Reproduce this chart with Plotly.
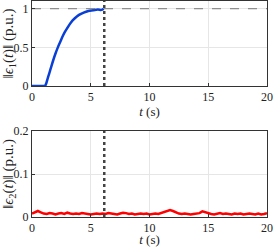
import plotly.graph_objects as go
from plotly.subplots import make_subplots

# Top: norm of eps1 (blue), drawn until switch time
t1 = [0, 0.5, 1.0, 1.1, 1.2, 1.3, 1.4, 1.5, 1.6, 1.8, 2.0, 2.2, 2.4, 2.6, 2.8, 3.0, 3.3,
      3.6, 4.0, 4.4, 4.8, 5.2, 5.6, 5.9, 6.1]
y1 = [0, 0, 0, 0.0, 0.03, 0.08, 0.13, 0.18, 0.23, 0.33, 0.42, 0.50, 0.57, 0.64, 0.70, 0.75,
      0.82, 0.87, 0.92, 0.95, 0.97, 0.98, 0.99, 0.985, 1.0]

# Bottom: norm of eps2 (red)
t2 = [i * 0.25 for i in range(81)]
y2 = [0.008, 0.012, 0.014, 0.011, 0.008, 0.007, 0.009, 0.008, 0.006, 0.008, 0.009, 0.007,
      0.010, 0.008, 0.007, 0.008, 0.007, 0.009, 0.008, 0.007, 0.006, 0.007, 0.008, 0.007,
      0.008, 0.007, 0.009, 0.008, 0.007, 0.006, 0.008, 0.010, 0.009, 0.007, 0.008, 0.006,
      0.007, 0.008, 0.007, 0.008, 0.006, 0.007, 0.008, 0.007, 0.009, 0.011, 0.013, 0.016,
      0.014, 0.011, 0.008, 0.007, 0.008, 0.007, 0.006, 0.007, 0.008, 0.009, 0.013, 0.011,
      0.008, 0.007, 0.006, 0.008, 0.009, 0.007, 0.008, 0.007, 0.006, 0.008, 0.007, 0.008,
      0.006, 0.007, 0.008, 0.007, 0.006, 0.008, 0.006, 0.007, 0.009]

t_switch = 6.15
ref_level = 1.0
x_ticks = [0, 5, 10, 15, 20]
y1_ticks = [0, 0.5, 1]
y2_ticks = [0, 0.1, 0.2]

FONT = "Liberation Serif, Times New Roman, DejaVu Serif, serif"

fig = make_subplots(rows=2, cols=1)
fig.add_trace(go.Scatter(x=t1, y=y1, mode="lines", line=dict(color="#0a3fd6", width=2.5),
                         line_shape="spline", showlegend=False), row=1, col=1)
fig.add_trace(go.Scatter(x=[0, 20], y=[ref_level, ref_level], mode="lines",
                         line=dict(color="#777777", width=1, dash="dash"), showlegend=False), row=1, col=1)
fig.add_trace(go.Scatter(x=[t_switch, t_switch], y=[0, 1.1], mode="lines",
                         line=dict(color="#444444", width=2.5, dash="dot"), showlegend=False), row=1, col=1)
fig.add_trace(go.Scatter(x=t2, y=y2, mode="lines", line=dict(color="#ff0000", width=2.5),
                         showlegend=False), row=2, col=1)
fig.add_trace(go.Scatter(x=[t_switch, t_switch], y=[0, 0.2], mode="lines",
                         line=dict(color="#444444", width=2.5, dash="dot"), showlegend=False), row=2, col=1)

axis_common = dict(showline=True, linecolor="#333333", linewidth=1, mirror=True,
                   ticks="inside", ticklen=3, tickcolor="#333333", automargin=False,
                   ticklabeloverflow="allow",
                   showgrid=True, gridcolor="#e6e6e6", gridwidth=1, zeroline=False,
                   tickfont=dict(family=FONT, size=12, color="#222222"))

for r in [1, 2]:
    fig.update_xaxes(range=[0, 20], tickvals=x_ticks, ticktext=[str(v) for v in x_ticks],
                     title=dict(text="<i>t</i> (s)", font=dict(family=FONT, size=13, color="#222222"),
                                standoff=3),
                     **axis_common, row=r, col=1)
fig.update_yaxes(range=[0, 1.1], tickvals=y1_ticks, ticktext=["0", "0.5", "1"], domain=[0.6065, 1.0],
                 title=dict(text="‖<i>ϵ</i><sub>1</sub>(<i>t</i>)‖ (p.u.)",
                            font=dict(family=FONT, size=15, color="#222222"), standoff=0),
                 **axis_common, row=1, col=1)
fig.update_yaxes(range=[0, 0.2], tickvals=y2_ticks, ticktext=["0", "0.1", "0.2"], domain=[0.0, 0.398],
                 title=dict(text="‖<i>ϵ</i><sub>2</sub>(<i>t</i>)‖ (p.u.)",
                            font=dict(family=FONT, size=15, color="#222222"), standoff=0),
                 **axis_common, row=2, col=1)

fig.update_layout(width=274, height=247, margin=dict(l=32, r=7, t=1, b=30),
                  paper_bgcolor="white", plot_bgcolor="white")
fig.write_html("out.html", config={"displayModeBar": False},
               post_script="document.body.style.margin='0';document.body.style.padding='0';")
